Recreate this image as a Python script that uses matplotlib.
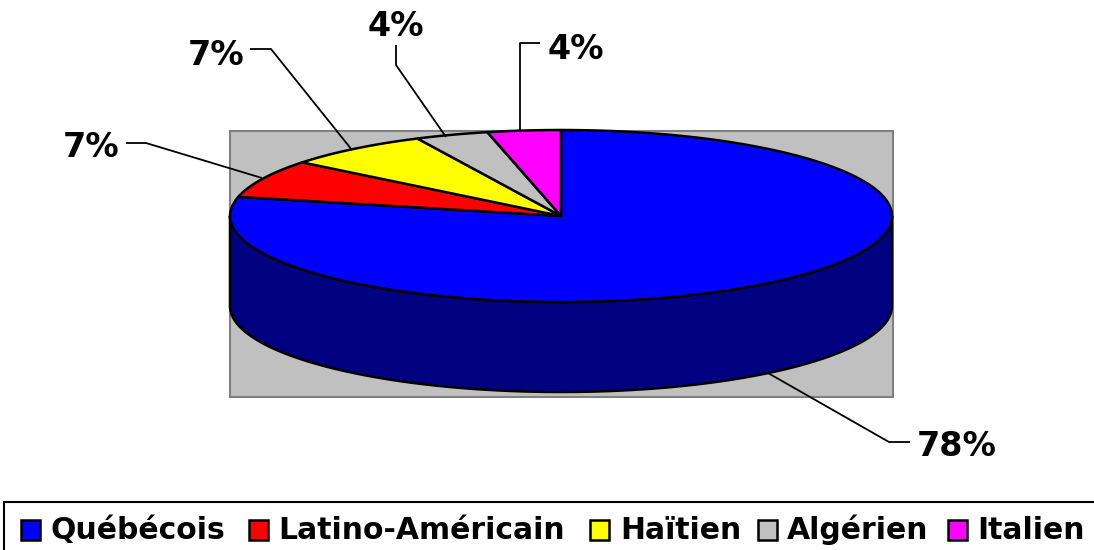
# -*- coding: utf-8 -*
import numpy as np
import matplotlib
matplotlib.use('Agg')
import matplotlib.pyplot as plt
from matplotlib.patches import Polygon, Rectangle

groups = ['Québécois', 'Latino-Américain', 'Haïtien', 'Algérien', 'Italien']
counts = [22, 2, 2, 1, 1]
pct_labels = ['78%', '7%', '7%', '4%', '4%']
colors = ['#0000FF', '#FF0000', '#FFFF00', '#C0C0C0', '#FF00FF']

# layout in image pixels
Cx, Cy, Rx, Ry, Depth = 561, 216, 331, 86, 90
label_pos = [(957, 456), (91, 157), (216, 65), (396, 36), (576, 59)]
leaders = [
    [(910, 442), (889, 442), (768, 373)],
    [(126, 143), (146, 143), (262, 178)],
    [(250, 49), (271, 49), (352, 150)],
    [(396, 45), (396, 65), (446, 137)],
    [(540, 43), (520, 43), (520, 131)],
]
legend_box_x = [21, 249, 590, 758, 948]
legend_text_x = [50, 278, 620, 787, 977]

fig = plt.figure(figsize=(10.94, 5.5), dpi=100)
ax = fig.add_axes([0, 0, 1, 1])
ax.set_xlim(0, 1094)
ax.set_ylim(550, 0)
ax.axis('off')


def ellipse_pts(a1, a2, n=200, dy=0):
    t = np.radians(np.linspace(a1, a2, n))
    return np.column_stack([Cx + Rx*np.cos(t), Cy + dy - Ry*np.sin(t)])


# plot area
ax.add_patch(Rectangle((230, 131), 663, 266, fc='#C0C0C0', ec='#808080', lw=1.5, zorder=1))

# side wall, front half of the ellipse
top = ellipse_pts(180, 360)
bot = ellipse_pts(360, 180, dy=Depth)
ax.add_patch(Polygon(np.vstack([top, bot]), closed=True, fc='#000080', ec='black', lw=1.8, zorder=2))

# top face, clockwise from 12 o'clock
shares = np.array(counts) / np.sum(counts)
ends = 90 - 360*np.cumsum(shares)
starts = np.r_[90, ends[:-1]]
for i in range(len(counts)):
    arc = ellipse_pts(starts[i], ends[i])
    pts = np.vstack([[Cx, Cy], arc])
    ax.add_patch(Polygon(pts, closed=True, fc=colors[i], ec='black', lw=1.8, joinstyle='round', zorder=3))

# percent labels and leader lines
for i in range(len(counts)):
    xy = np.array(leaders[i])
    ax.plot(xy[:, 0], xy[:, 1], color='black', lw=1.3, zorder=4, solid_capstyle='butt')
    ax.text(label_pos[i][0], label_pos[i][1], pct_labels[i], fontsize=24, fontweight='bold',
            ha='center', va='baseline', color='black', zorder=5)

# legend, the frame runs past the picture
ax.add_patch(Rectangle((4, 502), 1200, 100, fc='white', ec='black', lw=1.5, zorder=1))
for i in range(len(groups)):
    ax.add_patch(Rectangle((legend_box_x[i], 520), 19, 20, fc=colors[i], ec='black', lw=1.8, zorder=3))
    ax.text(legend_text_x[i], 539, groups[i], fontsize=21.5, fontweight='bold',
            ha='left', va='baseline', color='black', zorder=5)

fig.savefig('out.png', dpi=100)
